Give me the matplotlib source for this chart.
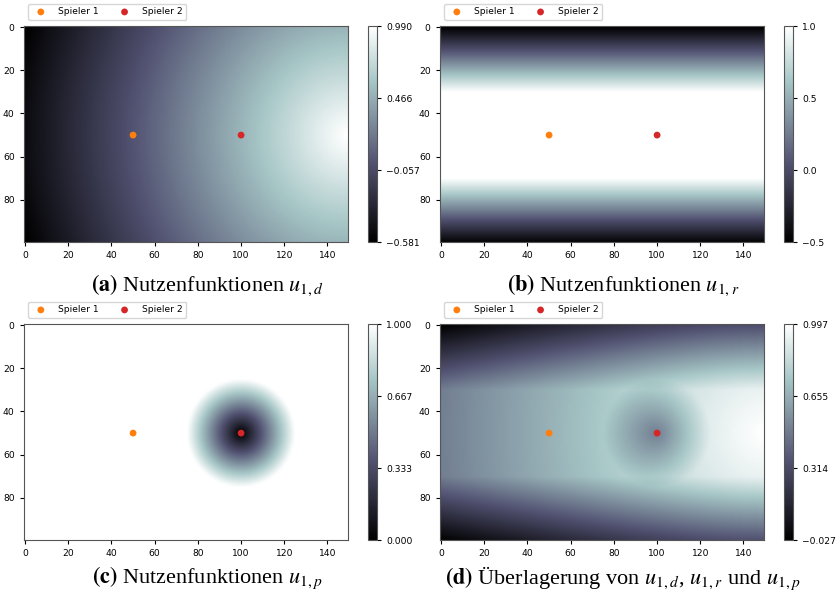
import numpy as np
import matplotlib
matplotlib.use("Agg")
import matplotlib.pyplot as plt

plt.rcParams["mathtext.fontset"] = "stix"

# Spielfeld und Parameter der Nutzenfunktionen
field_width = 150
field_height = 100
player_names = ["Spieler 1", "Spieler 2"]
player_x = [50, 100]
player_y = [50, 50]
player_colors = ["#ff7f0e", "#d62728"]

goal_x, goal_y = 150, 50          # Zielpunkt der Distanznutzen u_{1,d}
goal_scale = 100
lane_center = 50                  # Mittelstreifen fuer u_{1,r}
lane_half_width = 20
lane_falloff = 20
press_radius = 25                 # Einflussradius des Gegners fuer u_{1,p}

captions = [
    r"$\mathbf{(a)}$ Nutzenfunktionen $u_{1,d}$",
    r"$\mathbf{(b)}$ Nutzenfunktionen $u_{1,r}$",
    r"$\mathbf{(c)}$ Nutzenfunktionen $u_{1,p}$",
    r"$\mathbf{(d)}$ Überlagerung von $u_{1,d}$, $u_{1,r}$ und $u_{1,p}$",
]
tick_formats = ["{:.3f}", "{:.1f}", "{:.3f}", "{:.3f}"]

X, Y = np.meshgrid(np.arange(field_width), np.arange(field_height))

u_d = 1 - np.hypot(X - goal_x, Y - goal_y) / goal_scale
lane_dist = np.abs(Y - lane_center)
u_r = np.where(lane_dist <= lane_half_width, 1.0,
               1 - (lane_dist - lane_half_width) / lane_falloff)
opp_dist = np.hypot(X - player_x[1], Y - player_y[1])
u_p = np.where(opp_dist < press_radius, opp_dist / press_radius, 1.0)
u_sum = (u_d + u_r + u_p) / 3

fields = [u_d, u_r, u_p, u_sum]

W, H = 840, 598
fig = plt.figure(figsize=(W / 100, H / 100), dpi=100)

# Pixelpositionen: (links, oben) der Achsen, Colorbar-x, Beschriftungsmitte
ax_w, ax_h = 324, 216
panels = [
    (24, 26, 368, 207, 285),
    (440, 26, 784, 623, 285),
    (24, 324, 368, 207, 578),
    (440, 324, 784, 623, 578),
]

def fig_rect(x, y, w, h):
    return [x / W, 1 - (y + h) / H, w / W, h / H]

small = 6.6

for field, (ax_x, ax_y, cb_x, cap_x, cap_y), cap, fmt in zip(
        fields, panels, captions, tick_formats):
    ax = fig.add_axes(fig_rect(ax_x, ax_y, ax_w, ax_h))
    im = ax.imshow(field, cmap="bone", interpolation="bilinear")
    for name, px, py, c in zip(player_names, player_x, player_y, player_colors):
        ax.scatter([px], [py], color=c, s=24, label=name, zorder=3,
                   edgecolors="none")
    ax.set_xticks(np.arange(0, field_width, 20))
    ax.set_yticks(np.arange(0, field_height, 20))
    ax.tick_params(labelsize=small, length=3.2, width=0.8)
    for sp in ax.spines.values():
        sp.set_color("#555555")
    ax.legend(loc="lower left", ncol=2, fontsize=small,
              bbox_to_anchor=((ax_x + 4) / W, 1 - (ax_y - 6) / H),
              bbox_transform=fig.transFigure, borderaxespad=0,
              handletextpad=0.9, columnspacing=1.8, markerscale=1.0)

    cax = fig.add_axes(fig_rect(cb_x, ax_y, 9, ax_h))
    vmin, vmax = float(field.min()), float(field.max())
    ticks = np.linspace(vmin, vmax, 4)
    cb = fig.colorbar(im, cax=cax, ticks=ticks)
    cb.ax.set_yticklabels([fmt.format(t).replace("-", "\u2212") for t in ticks])
    cb.ax.tick_params(labelsize=small, length=3.2, width=0.8)
    cb.outline.set_linewidth(0.8)
    cb.outline.set_edgecolor("#555555")

    fig.text(cap_x / W, 1 - cap_y / H, cap, ha="center", va="center",
             fontsize=16, family="Liberation Serif")

fig.savefig("out.png", dpi=100, facecolor="white")
